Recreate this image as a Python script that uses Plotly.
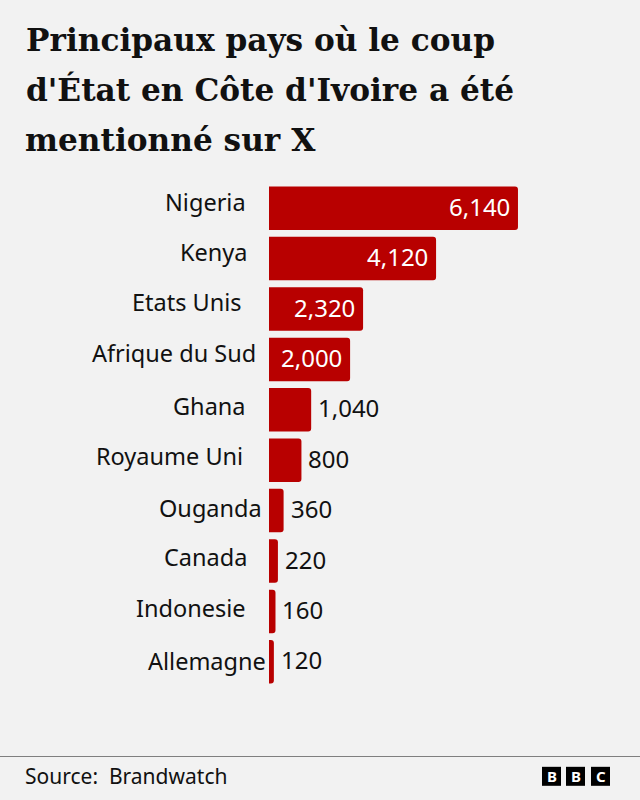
"""Principaux pays ou le coup d'Etat en Cote d'Ivoire a ete mentionne sur X"""

import plotly.graph_objects as go

countries = ["Nigeria", "Kenya", "Etats Unis", "Afrique du Sud", "Ghana",
             "Royaume Uni", "Ouganda", "Canada", "Indonesie", "Allemagne"]
mentions = [6140, 4120, 2320, 2000, 1040, 800, 360, 220, 160, 120]
title_lines = ["Principaux pays où le coup",
               "d'État en Côte d'Ivoire a été",
               "mentionné sur X"]

# hand placed label offsets in the original graphic (px)
label_right = [248, 250, 244, 258, 248, 245, 264, 249, 248, 268]
label_lift = [6, 6.5, 7, 6, 4, 4.5, 3, 4.5, 3, 1]

RED = "#b80000"
BG = "#f2f2f2"
SANS = "Noto Sans"
W, H = 640, 800
LEFT, TOP, BOTTOM = 269, 183.3, 112.8
X_MAX = 371 / 0.04055


def px_x(x):
    return (x - LEFT) / (W - LEFT)


def px_y(y):
    return (H - BOTTOM - y) / (H - TOP - BOTTOM)


fig = go.Figure(
    go.Bar(
        x=mentions,
        y=countries,
        orientation="h",
        marker=dict(color=RED, line=dict(width=0), cornerradius=3),
        hoverinfo="skip",
    )
)

for line, y in zip(title_lines, [40, 90, 140]):
    fig.add_annotation(
        text=f"<b>{line}</b>", xref="paper", yref="paper", x=px_x(23.5), y=px_y(y),
        xanchor="left", yanchor="middle", showarrow=False,
        font=dict(family="DejaVu Serif", size=31.2, color="#111111"),
    )

for name, value, right, lift in zip(countries, mentions, label_right, label_lift):
    fig.add_annotation(
        text=name, xref="paper", yref="y", x=px_x(right), y=name, yshift=lift,
        xanchor="right", yanchor="middle", showarrow=False,
        font=dict(family=SANS, size=23.5, color="#111111"),
    )
    inside = value >= 2000
    fig.add_annotation(
        text=f"{value:,}", xref="x", yref="y", x=value, y=name,
        xshift=-6 if inside else 5, yshift=2,
        xanchor="right" if inside else "left", yanchor="middle", showarrow=False,
        font=dict(family=SANS, size=24, color="white" if inside else "#111111"),
    )

fig.add_annotation(
    text="Source:  Brandwatch", xref="paper", yref="paper", x=px_x(23), y=px_y(776),
    xanchor="left", yanchor="middle", showarrow=False,
    font=dict(family=SANS, size=21, color="#111111"),
)

# footer rule and logo blocks
fig.add_shape(type="line", xref="paper", yref="paper", x0=px_x(0), x1=px_x(640),
              y0=px_y(756.7), y1=px_y(756.7), line=dict(color="#7f7f7f", width=1.2))
for letter, x0 in zip("BBC", [542, 566, 591]):
    fig.add_shape(type="rect", xref="paper", yref="paper", x0=px_x(x0), x1=px_x(x0 + 19),
                  y0=px_y(786), y1=px_y(767), fillcolor="#000000", line=dict(width=0))
    fig.add_annotation(
        text=f"<b>{letter}</b>", xref="paper", yref="paper", x=px_x(x0 + 9.5), y=px_y(776.5),
        xanchor="center", yanchor="middle", showarrow=False,
        font=dict(family=SANS, size=15, color="white"),
    )

fig.update_layout(
    width=W,
    height=H,
    margin=dict(l=LEFT, r=0, t=TOP, b=BOTTOM, pad=0, autoexpand=False),
    paper_bgcolor=BG,
    plot_bgcolor=BG,
    bargap=0.137,
    showlegend=False,
    xaxis=dict(range=[0, X_MAX], visible=False),
    yaxis=dict(autorange="reversed", showticklabels=False, showgrid=False,
               zeroline=False, showline=False, ticks=""),
)

fig.write_html(
    "out.html",
    config=dict(displayModeBar=False),
    post_script="document.body.style.margin = '0';",
)
